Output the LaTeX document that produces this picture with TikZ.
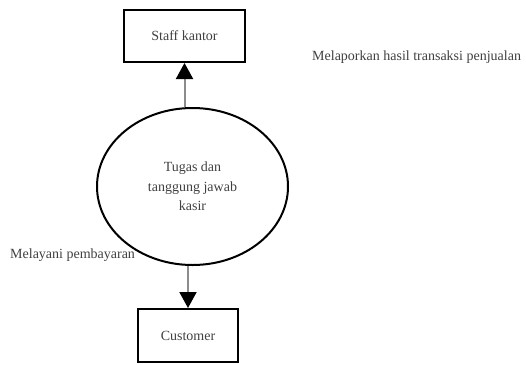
\documentclass[tikz,border=0pt]{standalone}
\usepackage{fontspec}
\setmainfont{Liberation Serif}
\usepackage{tikz}
\usetikzlibrary{shapes.geometric}
\usetikzlibrary{arrows.meta}
\tikzset{>=latex}

\begin{document}
\begin{tikzpicture}
                [x=1pt,y=-1pt,
                 every node/.style={font=\fontsize{14}{19.5}\selectfont,text=black!75},
                 entitas/.style={draw=black,line width=2pt,rectangle,inner sep=0pt},
                 proses/.style={draw=black,line width=2pt,ellipse,inner sep=0pt,
                   minimum width=191pt,minimum height=157pt,align=center},
                 alur/.style={draw=black!45,line width=2pt,
                   -{Triangle[width=17pt,length=16pt,color=black]}},
                 ket/.style={anchor=west,inner sep=0pt}]
                \useasboundingbox (0,0) rectangle (526,364);

                \node[ket] (lapor) at (312,57) {Melaporkan hasil transaksi penjualan};
                \node[ket] (layani) at (10,255) {Melayani pembayaran};

                \node[entitas,minimum width=121pt,minimum height=52pt] (staff) at (184.5,36) {Staff kantor};
                \node[proses] (kasir) at (192.5,186.5) {Tugas dan\\tanggung jawab\\kasir};
                \node[entitas,minimum width=100pt,minimum height=53pt] (cust) at (188,335.5) {Customer};

                \draw[alur] (kasir.north -| staff.south) -- (staff.south);
                \draw[alur] (kasir.south -| cust.north) -- (cust.north);
            \end{tikzpicture}
\end{document}
